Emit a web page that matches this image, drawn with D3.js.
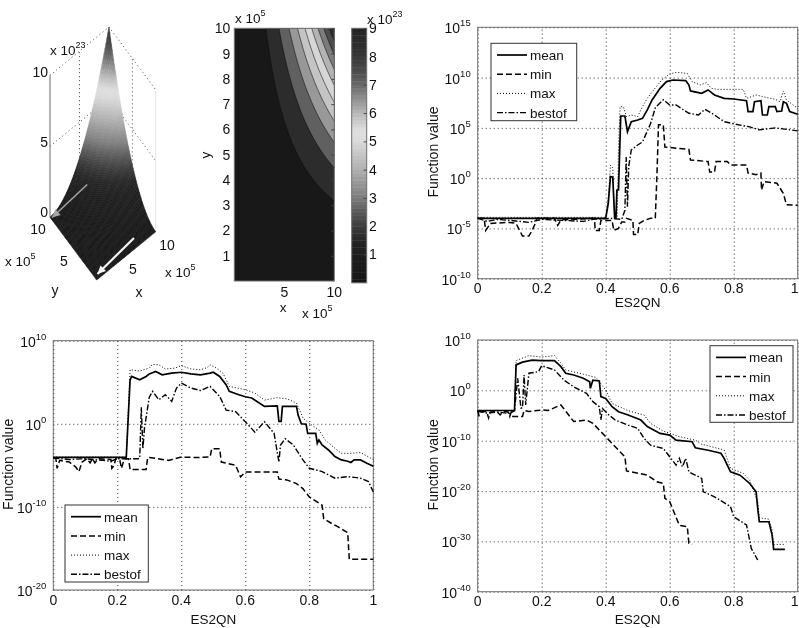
<!DOCTYPE html>
<html><head><meta charset="utf-8">
<script src="https://cdn.jsdelivr.net/npm/d3@7"></script>
<style>
html,body{margin:0;padding:0;background:#fff}
svg{display:block;font-family:"Liberation Sans",Arial,sans-serif;filter:blur(0.35px)}
text{fill:#111}
</style></head><body><div id="c"></div>
<script>
// ---------- data: [x, log10(value)] ----------
const trMean=[[0,-4],[0.4,-4],[0.408,-2.5],[0.415,0.15],[0.422,0.1],[0.428,-4],[0.432,-4],[0.435,-1.18],[0.44,-1.18],[0.447,6.18],[0.46,6.18],[0.468,4.62],[0.48,5.62],[0.5,5.78],[0.515,5.95],[0.53,6.78],[0.545,7.77],[0.57,8.93],[0.59,9.6],[0.61,9.76],[0.65,9.7],[0.66,9.26],[0.665,8.67],[0.7,8.43],[0.72,8.77],[0.74,8.27],[0.77,7.94],[0.8,7.87],[0.84,7.7],[0.845,6.61],[0.86,6.61],[0.865,7.6],[0.885,7.7],[0.89,6.28],[0.905,6.28],[0.91,7.11],[0.93,7.11],[0.935,6.61],[0.95,6.68],[0.955,7.6],[0.965,7.44],[0.975,6.61],[1,6.35]];
const trMax=[[0,-3.9],[0.4,-3.9],[0.408,-2],[0.415,1.3],[0.422,1],[0.428,-3.9],[0.436,-3.9],[0.44,2.9],[0.445,7.11],[0.455,7.11],[0.465,6.12],[0.48,6.28],[0.5,6.12],[0.515,7.11],[0.53,7.94],[0.55,8.77],[0.575,9.76],[0.6,10.36],[0.62,10.52],[0.655,10.42],[0.67,9.6],[0.695,9.26],[0.715,9.5],[0.73,8.93],[0.75,8.83],[0.83,8.83],[0.84,7.94],[0.85,8.04],[0.87,8.27],[0.9,8.04],[0.93,7.84],[0.945,7.6],[0.955,8.67],[0.965,7.77],[1,6.94]];
const trMin=[[0,-4],[0.02,-4],[0.025,-5.2],[0.04,-4.5],[0.1,-4.4],[0.12,-4.5],[0.14,-5.76],[0.16,-5.76],[0.17,-5.2],[0.18,-4.5],[0.185,-4],[0.24,-4],[0.25,-4.7],[0.26,-4.15],[0.365,-4],[0.367,-5.2],[0.38,-5.2],[0.385,-4.2],[0.42,-4.2],[0.425,-5.2],[0.44,-5],[0.45,-4.35],[0.46,-4.35],[0.465,-4],[0.485,-4.2],[0.487,-5.6],[0.5,-5.6],[0.505,-4.5],[0.52,-4.2],[0.54,-4],[0.555,-4],[0.56,0.2],[0.565,5.3],[0.58,5.3],[0.585,3.1],[0.66,2.85],[0.665,1.8],[0.72,1.65],[0.725,0.6],[0.74,0.6],[0.745,1.65],[0.78,1.65],[0.79,1.3],[0.84,1.3],[0.845,0.5],[0.87,0.35],[0.885,0.5],[0.887,-1.18],[0.895,-0.35],[0.935,-0.5],[0.955,-1.5],[0.965,-2.65],[1,-2.7]];
const trBest=[[0,-4],[0.03,-4.3],[0.06,-4.1],[0.1,-4.2],[0.16,-4.4],[0.2,-4.1],[0.33,-4.3],[0.36,-4.1],[0.42,-4],[0.45,-4.1],[0.46,-3.2],[0.464,2.1],[0.468,-2.85],[0.472,1.2],[0.48,2.8],[0.5,3.3],[0.515,3.6],[0.54,5.4],[0.555,7],[0.58,7.8],[0.6,7.27],[0.62,7.27],[0.64,6.85],[0.66,6.45],[0.69,6.28],[0.71,6.85],[0.74,6.28],[0.77,5.62],[0.8,5.4],[0.85,5.1],[0.88,4.8],[0.93,5],[1,4.7]];

const blMean=[[0,-4.05],[0.228,-4.05],[0.24,5.3],[0.245,5.7],[0.27,5.3],[0.29,5.7],[0.3,6],[0.32,6.3],[0.34,5.9],[0.37,6.1],[0.4,6.2],[0.43,6],[0.46,5.9],[0.49,6.1],[0.5,6.2],[0.52,5.7],[0.54,4.7],[0.55,3.9],[0.58,3.5],[0.6,3.25],[0.62,3.1],[0.64,2.6],[0.66,2.1],[0.7,2.15],[0.705,0.3],[0.712,0.3],[0.716,2.1],[0.76,2.1],[0.765,1.05],[0.775,0],[0.79,-0.05],[0.795,-1.15],[0.82,-1.15],[0.825,-2.35],[0.83,-1.95],[0.84,-2.55],[0.86,-3.15],[0.88,-3.95],[0.9,-4.35],[0.92,-4.5],[0.93,-4.65],[0.94,-4.35],[0.96,-4.35],[0.98,-4.75],[1,-5.1]];
const blMax=[[0,-4],[0.228,-4],[0.24,6.5],[0.27,6.35],[0.3,6.7],[0.31,7.15],[0.33,7.1],[0.35,6.6],[0.38,6.7],[0.4,7],[0.43,6.6],[0.46,6.5],[0.48,6.75],[0.49,7.1],[0.51,6.7],[0.53,6.1],[0.54,5.3],[0.55,4.5],[0.6,4.1],[0.63,3.7],[0.66,2.85],[0.7,3.15],[0.73,3],[0.76,2.5],[0.78,0.7],[0.8,0.05],[0.83,-0.75],[0.85,-1.95],[0.88,-2.95],[0.9,-3.55],[0.93,-3.55],[0.96,-3.45],[1,-4.3]];
const blMin=[[0,-4.1],[0.008,-4.2],[0.012,-5.36],[0.02,-4.4],[0.05,-4.6],[0.07,-5.2],[0.08,-5.76],[0.09,-4.6],[0.105,-4.2],[0.115,-4.7],[0.122,-4.2],[0.13,-4.7],[0.14,-4.2],[0.18,-4.3],[0.183,-5.36],[0.19,-5],[0.195,-4.2],[0.208,-4.4],[0.213,-5.36],[0.222,-4.2],[0.235,-4.2],[0.24,-5.5],[0.29,-5.5],[0.295,-4.05],[0.3,-4.05],[0.36,-4.4],[0.4,-4],[0.44,-4.05],[0.46,-4.05],[0.49,-4],[0.495,-3],[0.52,-3],[0.525,-4.6],[0.57,-5],[0.585,-6.4],[0.6,-5.8],[0.7,-5.8],[0.705,-6.65],[0.73,-6.75],[0.76,-7.2],[0.78,-7.8],[0.8,-8.8],[0.84,-9.8],[0.845,-11.4],[0.87,-12],[0.89,-12.4],[0.92,-13.1],[0.925,-16.3],[1,-16.3]];
const blBest=[[0,-4.1],[0.05,-4.3],[0.1,-4.2],[0.18,-4.5],[0.2,-4.2],[0.265,-4.2],[0.27,-4.15],[0.275,2],[0.28,-3],[0.285,-0.5],[0.295,2],[0.3,3.2],[0.31,3.9],[0.33,2.9],[0.35,3.5],[0.37,2.7],[0.385,4.3],[0.4,4.9],[0.43,4.3],[0.46,4],[0.49,4.5],[0.52,3.3],[0.54,1.65],[0.57,1.45],[0.6,0.25],[0.63,-1],[0.66,0.25],[0.69,-1.15],[0.705,-4.6],[0.71,-2.55],[0.725,-1.8],[0.75,-2.55],[0.78,-4.35],[0.8,-5.35],[0.84,-5.75],[0.88,-6.55],[0.92,-6.35],[0.96,-6.55],[0.985,-6.95],[1,-8.2]];

const brMean=[[0,-4],[0.115,-4],[0.12,5.05],[0.14,5.6],[0.17,6],[0.2,5.9],[0.24,5.9],[0.26,4.7],[0.275,3.4],[0.3,3.05],[0.33,2.4],[0.35,1.7],[0.352,0.4],[0.36,2],[0.38,1.85],[0.385,-1.25],[0.4,-1.6],[0.42,-3.25],[0.44,-4.25],[0.47,-4.9],[0.51,-5.9],[0.53,-7.2],[0.57,-8.55],[0.6,-8.9],[0.62,-9.9],[0.67,-10.2],[0.68,-11.4],[0.72,-11.9],[0.76,-12.5],[0.77,-13.5],[0.79,-16.2],[0.82,-16.85],[0.85,-18.5],[0.87,-20.15],[0.875,-23.4],[0.88,-26.1],[0.91,-26.1],[0.92,-28.75],[0.925,-31.6],[0.96,-31.6]];
const brMax=[[0,-4],[0.115,-4],[0.12,5.9],[0.16,6.9],[0.2,6.6],[0.24,6.9],[0.26,5.4],[0.275,4.05],[0.33,3.2],[0.37,2.55],[0.4,0.05],[0.42,-2.6],[0.47,-4.05],[0.52,-4.9],[0.54,-6.55],[0.58,-8.1],[0.63,-9.2],[0.68,-9.9],[0.7,-10.7],[0.77,-11.85],[0.79,-15.5],[0.83,-16.5],[0.85,-17.85],[0.875,-22.1],[0.88,-25.3],[0.91,-25.6],[0.92,-27.75],[0.925,-30.6],[0.96,-30.6]];
const brMin=[[0,-4],[0.004,-5],[0.01,-4.2],[0.028,-4.2],[0.034,-5.5],[0.04,-4.3],[0.06,-4.2],[0.07,-4.9],[0.08,-4.2],[0.095,-4.3],[0.1,-5.2],[0.105,-4.3],[0.11,-5.2],[0.115,-5.2],[0.14,-5.2],[0.145,-4],[0.16,-4.2],[0.2,-3.9],[0.22,-4],[0.26,-2.9],[0.28,-4.55],[0.3,-6.2],[0.34,-5.9],[0.36,-6.55],[0.4,-9.2],[0.42,-10.55],[0.46,-13.2],[0.465,-16],[0.53,-16.85],[0.56,-18.15],[0.58,-18.5],[0.585,-21.45],[0.6,-22.1],[0.63,-26.8],[0.655,-27.1],[0.66,-30.4],[0.67,-30.6]];
const brBest=[[0,-4.2],[0.03,-4.5],[0.06,-4.3],[0.1,-4.6],[0.115,-4],[0.125,2.4],[0.135,-3.5],[0.14,-3.5],[0.145,3.05],[0.15,-2.9],[0.16,3.4],[0.19,3.7],[0.2,4.9],[0.24,4.05],[0.27,2],[0.3,0.7],[0.34,-0.6],[0.36,-2.25],[0.38,-3.25],[0.385,-5.9],[0.39,-3.6],[0.41,-4.9],[0.43,-5.9],[0.47,-6.9],[0.5,-7.55],[0.52,-9.55],[0.54,-10.9],[0.58,-11.55],[0.6,-13.2],[0.62,-14.85],[0.63,-13.5],[0.64,-15.2],[0.65,-13.5],[0.66,-16.2],[0.7,-17.5],[0.705,-20.15],[0.74,-21.15],[0.79,-23.1],[0.8,-25.1],[0.84,-26.75],[0.855,-31.4],[0.875,-33.7]];

const seriesNames=["mean","min","max","bestof"];
const trTicks=[15,10,5,0,-5,-10], blTicks=[10,0,-10,-20], brTicks=[10,0,-10,-20,-30,-40];
const xTicks=[0,0.2,0.4,0.6,0.8,1];

// surface values (in 1e23) on a coarse x/y grid (in 1e5)
const gridAxis=[0,2,4,6,8,10];
const surfaceZ=[
[0,0,0,0,0,0],
[0,0.016,0.064,0.144,0.256,0.4],
[0,0.064,0.256,0.576,1.024,1.6],
[0,0.144,0.576,1.296,2.304,3.6],
[0,0.256,1.024,2.304,4.096,6.4],
[0,0.4,1.6,3.6,6.4,10]];
const contourLevels=[1,2,3,4,5,6,7,8,9];
const bandGrays=["#181818","#2c2c2c","#606060","#989898","#c4c4c4","#d6d6d6","#b4b4b4","#7c7c7c","#4c4c4c","#2c2c2c"];
const cmapZ=[0,1,1.5,2,2.5,3,4,5,5.4,6,7,7.5,8,9,10];
const cmapGray=[22,30,38,60,90,125,175,218,222,185,105,75,55,34,30];
const surfaceColorStretch=0.85; // the 3-D view spreads the same gray ramp over a wider z range
// arrows on the surface: [x, y, z] of tail and head
const grayArrow=[[4.8,8.1,1.51],[0.2,9.8,0]];
const whiteArrow=[[7.22,1.14,0],[0.55,0.53,0]];

// ---------- page ----------
const W=799,H=628;
const svg=d3.select("#c").append("svg").attr("width",W).attr("height",H);
const axisGray="#6e6e6e";
const grayAt=d3.scaleLinear().domain(cmapZ).range(cmapGray).clamp(true);
const zColor=z=>{const g=Math.round(grayAt(z));return `rgb(${g},${g},${g})`;};

function sup(sel,x,y,base,exp,anchor,fs,sfs){
  const t=sel.append("text").attr("x",x).attr("y",y).attr("text-anchor",anchor||"start").style("font-size",(fs||14)+"px");
  t.append("tspan").text(base);
  t.append("tspan").attr("dy",-7).style("font-size",(sfs||9.5)+"px").text(exp);
  return t;
}

function lineChart(cfg){
  const g=svg.append("g");
  const x=d3.scaleLinear().domain([0,1]).range([cfg.l,cfg.r]);
  const ys=cfg.ticks;
  const y=d3.scaleLog().domain([Math.pow(10,ys[ys.length-1]),Math.pow(10,ys[0])]).range([cfg.b,cfg.t]);
  const tv=ys.map(d=>Math.pow(10,d));
  const gx=g.append("g").attr("transform",`translate(0,${cfg.b})`)
    .call(d3.axisBottom(x).tickValues(xTicks).tickSize(-(cfg.b-cfg.t)).tickFormat(""));
  gx.select(".domain").remove();
  gx.selectAll("line").attr("stroke","#222").attr("stroke-dasharray","1,3").attr("stroke-width",0.9);
  const gy=g.append("g").attr("transform",`translate(${cfg.l},0)`)
    .call(d3.axisLeft(y).tickValues(tv).tickSize(-(cfg.r-cfg.l)).tickFormat(""));
  gy.select(".domain").remove();
  gy.selectAll("line").attr("stroke","#222").attr("stroke-dasharray","1,3").attr("stroke-width",0.9);
  g.append("rect").attr("x",cfg.l).attr("y",cfg.t).attr("width",cfg.r-cfg.l).attr("height",cfg.b-cfg.t)
    .attr("fill","none").attr("stroke",axisGray).attr("stroke-width",1);
  xTicks.forEach(d=>{
    const atEdge=x(d)>790;
    g.append("text").attr("x",atEdge?798.5:x(d)).attr("y",cfg.b+14.5).attr("text-anchor",atEdge?"end":"middle").style("font-size","14px").text(d);
  });
  ys.forEach(d=>sup(g,cfg.l-7,y(Math.pow(10,d))+6,"10",d,"end"));
  g.append("text").attr("transform",`translate(${cfg.l-40},${(cfg.t+cfg.b)/2-1}) rotate(-90)`).attr("text-anchor","middle").style("font-size","14px").text("Function value");
  g.append("text").attr("x",(cfg.l+cfg.r)/2).attr("y",cfg.xlab).attr("text-anchor","middle").style("font-size","13.5px").text("ES2QN");
  const ln=d3.line().x(d=>x(d[0])).y(d=>y(Math.pow(10,d[1])));
  const styles=[{w:1.7,dash:null},{w:1.5,dash:"6,3"},{w:1,dash:"1,2"},{w:1.4,dash:"6,2,1.5,2"}];
  [3,1,2,0].forEach(k=>{
    const st=styles[k];
    g.append("path").attr("d",ln(cfg.s[k])).attr("fill","none").attr("stroke","#000").attr("stroke-width",st.w).attr("stroke-dasharray",st.dash);
  });
  const L=cfg.leg;
  const lg=g.append("g");
  lg.append("rect").attr("x",L.x).attr("y",L.y).attr("width",L.w).attr("height",L.h).attr("fill","#fff").attr("stroke","#333").attr("stroke-width",1);
  seriesNames.forEach((n,i)=>{
    const yy=L.y+11.7+i*19.2;
    const st=styles[i];
    lg.append("line").attr("x1",L.x+6).attr("x2",L.x+36).attr("y1",yy).attr("y2",yy).attr("stroke","#000").attr("stroke-width",st.w).attr("stroke-dasharray",st.dash);
    lg.append("text").attr("x",L.x+39).attr("y",yy+5).style("font-size","13.5px").text(n);
  });
}

lineChart({l:477.7,r:797.7,t:27.3,b:278.7,ticks:trTicks,xlab:307,s:[trMean,trMin,trMax,trBest],leg:{x:491,y:43.3,w:85.7,h:77.4}});
lineChart({l:53.3,r:373.3,t:340.7,b:590,ticks:blTicks,xlab:624,s:[blMean,blMin,blMax,blBest],leg:{x:65,y:505,w:83.3,h:77}});
lineChart({l:477.7,r:797.7,t:340,b:591.7,ticks:brTicks,xlab:624,s:[brMean,brMin,brMax,brBest],leg:{x:710,y:345.7,w:83,h:76.6}});

const rootZ=surfaceZ.map(r=>r.map(Math.sqrt));
function zAt(px,py){
  const step=gridAxis[1]-gridAxis[0];
  const i=Math.min(Math.floor(px/step),gridAxis.length-2), j=Math.min(Math.floor(py/step),gridAxis.length-2);
  const u=px/step-i, v=py/step-j;
  const r=rootZ[j][i]*(1-u)*(1-v)+rootZ[j][i+1]*u*(1-v)+rootZ[j+1][i]*(1-u)*v+rootZ[j+1][i+1]*u*v;
  return r*r;
}

// ---------- contour panel ----------
(function(){
  const g=svg.append("g");
  const l=234.3,r=334.3,t=28.3,b=281;
  const x=d3.scaleLinear().domain([0,10]).range([l,r]);
  const y=d3.scaleLinear().domain([0,10]).range([b,t]);
  const n=201, vals=new Array(n*n);
  for(let j=0;j<n;j++)for(let i=0;i<n;i++)vals[j*n+i]=zAt(i/(n-1)*10,j/(n-1)*10);
  const polys=d3.contours().size([n,n]).thresholds(contourLevels)(vals);
  const path=d3.geoPath(d3.geoTransform({point(px,py){this.stream.point(x((px-0.5)/(n-1)*10),y((py-0.5)/(n-1)*10));}}));
  svg.append("defs").append("clipPath").attr("id","cc").append("rect").attr("x",l).attr("y",t).attr("width",r-l).attr("height",b-t);
  const pl=g.append("g").attr("clip-path","url(#cc)");
  pl.append("rect").attr("x",l).attr("y",t).attr("width",r-l).attr("height",b-t).attr("fill",bandGrays[0]);
  polys.forEach((p,i)=>pl.append("path").attr("d",path(p)).attr("fill",bandGrays[i+1]).attr("stroke","#111").attr("stroke-width",0.6));
  g.append("rect").attr("x",l).attr("y",t).attr("width",r-l).attr("height",b-t).attr("fill","none").attr("stroke",axisGray);
  const ay=g.append("g").attr("transform",`translate(${r},0)`).call(d3.axisLeft(y).tickValues(d3.range(1,11)).tickSize(3).tickFormat(""));
  ay.select(".domain").remove(); ay.selectAll("line").attr("stroke","#444");
  d3.range(1,11).forEach(d=>g.append("text").attr("x",l-4).attr("y",y(d)+5).attr("text-anchor","end").style("font-size","14px").text(d));
  [5,10].forEach(d=>g.append("text").attr("x",x(d)).attr("y",b+16).attr("text-anchor","middle").style("font-size","14px").text(d));
  sup(g,235,23,"x 10","5","start",13.5,9);
  g.append("text").attr("x",283).attr("y",312).attr("text-anchor","middle").style("font-size","13.5px").text("x");
  sup(g,302,318,"x 10","5","start",13.5,9);
  g.append("text").attr("transform","translate(210,155) rotate(-90)").attr("text-anchor","middle").style("font-size","13.5px").text("y");
  const cl=351.7,cr=366.7,ct=28.3,cb=282.7;
  const cy=d3.scaleLinear().domain([0,9]).range([cb,ct]);
  d3.range(0,9,0.125).forEach(z=>g.append("rect").attr("x",cl).attr("y",cy(z+0.125)).attr("width",cr-cl).attr("height",cy(z)-cy(z+0.125)+0.4).attr("fill",zColor(z+0.06)));
  g.append("rect").attr("x",cl).attr("y",ct).attr("width",cr-cl).attr("height",cb-ct).attr("fill","none").attr("stroke",axisGray);
  const ac=g.append("g").attr("transform",`translate(${cr},0)`).call(d3.axisLeft(cy).tickValues(contourLevels).tickSize(3).tickFormat(""));
  ac.select(".domain").remove(); ac.selectAll("line").attr("stroke","#444");
  contourLevels.forEach(d=>g.append("text").attr("x",369).attr("y",cy(d)+5).style("font-size","14px").text(d));
  sup(g,367,24,"x 10","23","start",13.5,9);
})();

// ---------- 3-D surface panel ----------
(function(){
  const g=svg.append("g");
  const sxX=d3.scaleLinear().domain([0,10]).range([0,59]), sxY=d3.scaleLinear().domain([0,10]).range([0,-48.3]);
  const syX=d3.scaleLinear().domain([0,10]).range([0,-46.7]), syY=d3.scaleLinear().domain([0,10]).range([0,-62.7]);
  const sz=d3.scaleLinear().domain([0,10]).range([0,-142]);
  const ox=96.7, oy=280;
  const P=(a,b,c)=>[ox+sxX(a)+syX(b), oy+sxY(a)+syY(b)+sz(c)];
  const seg=(p,q,col,dash,w)=>g.append("line").attr("x1",p[0]).attr("y1",p[1]).attr("x2",q[0]).attr("y2",q[1]).attr("stroke",col).attr("stroke-dasharray",dash||null).attr("stroke-width",w||0.9);
  seg(P(0,10,10),P(10,10,10),"#333","1,3");
  seg(P(10,10,10),P(10,0,10),"#333","1,3");
  seg(P(0,10,5),P(10,10,5),"#333","1,3");
  seg(P(10,10,5),P(10,0,5),"#333","1,3");
  seg(P(5,10,0),P(5,10,10),"#333","1,3");
  seg(P(10,5,0),P(10,5,10),"#333","1,3");
  seg(P(10,0,0),P(10,0,10),"#e4e4e4");
  seg(P(0,10,0),P(0,10,10),"#777","",1.1);
  const N=60, cells=[];
  for(let j=0;j<N;j++)for(let i=0;i<N;i++)cells.push([i,j]);
  cells.sort((a,b)=>(b[0]+b[1])-(a[0]+a[1]));
  const xy=k=>k/N*10;
  const sg=g.append("g");
  cells.forEach(([i,j])=>{
    const a=xy(i),b=xy(i+1),c=xy(j),d=xy(j+1);
    const pts=[P(a,c,zAt(a,c)),P(b,c,zAt(b,c)),P(b,d,zAt(b,d)),P(a,d,zAt(a,d))];
    const col=zColor(zAt((a+b)/2,(c+d)/2)*surfaceColorStretch);
    sg.append("path").attr("d",d3.line()(pts)+"Z").attr("fill",col).attr("stroke",col).attr("stroke-width",0.5);
  });
  const arrow=(A,col,w)=>{
    const p=P(...A[0]), q=P(...A[1]);
    seg(p,q,col,null,w);
    const ang=Math.atan2(q[1]-p[1],q[0]-p[0]), s=9;
    const h=[q,[q[0]-s*Math.cos(ang-0.45),q[1]-s*Math.sin(ang-0.45)],[q[0]-s*Math.cos(ang+0.45),q[1]-s*Math.sin(ang+0.45)]];
    g.append("path").attr("d",d3.line()(h)+"Z").attr("fill",col);
  };
  arrow(grayArrow,"#a8a8a8",1.4);
  arrow(whiteArrow,"#f4f4f4",2.2);
  const lab=(xx,yy,t,anc)=>g.append("text").attr("x",xx).attr("y",yy).attr("text-anchor",anc||"middle").style("font-size","14px").text(t);
  lab(48,77,"10","end"); lab(48,147,"5","end"); lab(48,217,"0","end");
  sup(g,50,55,"x 10","23","start",13.5,9);
  lab(38,234,"10"); lab(64,266,"5");
  sup(g,5,266,"x 10","5","start",13.5,9);
  lab(55,295,"y"); lab(139,297,"x");
  lab(133,274,"5"); lab(167,250,"10");
  sup(g,165,277,"x 10","5","start",13.5,9);
})();
</script></body></html>
